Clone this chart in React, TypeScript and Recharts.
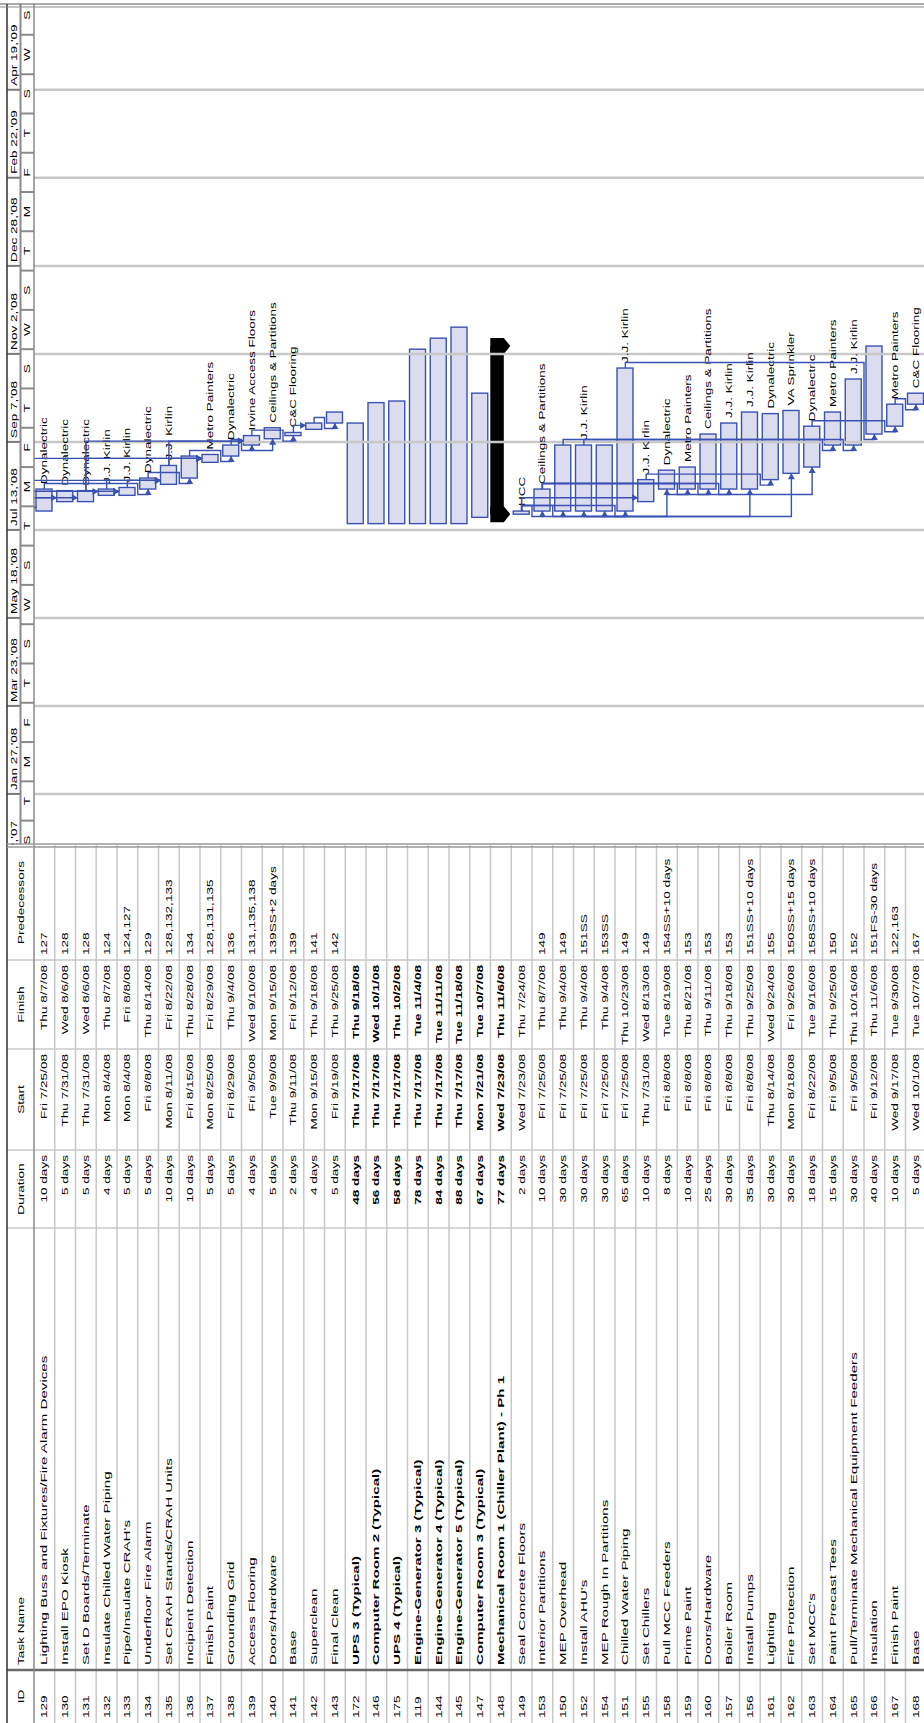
import React from 'react';
import { BarChart, Bar, XAxis, YAxis, ReferenceLine, LabelList, ScatterChart, Scatter } from 'recharts';

// ---------- data (read from the schedule) ----------
const ids = [129, 130, 131, 132, 133, 134, 135, 136, 137, 138, 139, 140, 141, 142, 143, 172, 146, 175, 119, 144, 145, 147, 148, 149, 153, 150, 152, 154, 151, 155, 158, 159, 160, 157, 156, 161, 162, 163, 164, 165, 166, 167, 168];

const taskNames = [
  'Lighting Buss and Fixtures/Fire Alarm Devices', 'Install EPO Kiosk', 'Set D Boards/Terminate', 'Insulate Chilled Water Piping',
  "Pipe/Insulate CRAH's", 'Underfloor Fire Alarm', 'Set CRAH Stands/CRAH Units', 'Incipient Detection', 'Finish Paint',
  'Grounding Grid', 'Access Flooring', 'Doors/Hardware', 'Base', 'Superclean', 'Final Clean', 'UPS 3 (Typical)',
  'Computer Room 2 (Typical)', 'UPS 4 (Typical)', 'Engine-Generator 3 (Typical)', 'Engine-Generator 4 (Typical)',
  'Engine-Generator 5 (Typical)', 'Computer Room 3 (Typical)', 'Mechanical Room 1 (Chiller Plant) - Ph 1',
  'Seal Concrete Floors', 'Interior Partitions', 'MEP Overhead', "Install AHU's", 'MEP Rough In Partitions',
  'Chilled Water Piping', 'Set Chillers', 'Pull MCC Feeders', 'Prime Paint', 'Doors/Hardware', 'Boiler Room',
  'Install Pumps', 'Lighting', 'Fire Protection', "Set MCC's", 'Paint Precast Tees',
  'Pull/Terminate Mechanical Equipment Feeders', 'Insulation', 'Finish Paint', 'Base',
];

const durations = ['10 days', '5 days', '5 days', '4 days', '5 days', '5 days', '10 days', '10 days', '5 days', '5 days', '4 days', '5 days', '2 days', '4 days', '5 days', '48 days', '56 days', '58 days', '78 days', '84 days', '88 days', '67 days', '77 days', '2 days', '10 days', '30 days', '30 days', '30 days', '65 days', '10 days', '8 days', '10 days', '25 days', '30 days', '35 days', '30 days', '30 days', '18 days', '15 days', '30 days', '40 days', '10 days', '5 days'];

const starts = ['Fri 7/25/08', 'Thu 7/31/08', 'Thu 7/31/08', 'Mon 8/4/08', 'Mon 8/4/08', 'Fri 8/8/08', 'Mon 8/11/08', 'Fri 8/15/08', 'Mon 8/25/08', 'Fri 8/29/08', 'Fri 9/5/08', 'Tue 9/9/08', 'Thu 9/11/08', 'Mon 9/15/08', 'Fri 9/19/08', 'Thu 7/17/08', 'Thu 7/17/08', 'Thu 7/17/08', 'Thu 7/17/08', 'Thu 7/17/08', 'Thu 7/17/08', 'Mon 7/21/08', 'Wed 7/23/08', 'Wed 7/23/08', 'Fri 7/25/08', 'Fri 7/25/08', 'Fri 7/25/08', 'Fri 7/25/08', 'Fri 7/25/08', 'Thu 7/31/08', 'Fri 8/8/08', 'Fri 8/8/08', 'Fri 8/8/08', 'Fri 8/8/08', 'Fri 8/8/08', 'Thu 8/14/08', 'Mon 8/18/08', 'Fri 8/22/08', 'Fri 9/5/08', 'Fri 9/5/08', 'Fri 9/12/08', 'Wed 9/17/08', 'Wed 10/1/08'];

const finishes = ['Thu 8/7/08', 'Wed 8/6/08', 'Wed 8/6/08', 'Thu 8/7/08', 'Fri 8/8/08', 'Thu 8/14/08', 'Fri 8/22/08', 'Thu 8/28/08', 'Fri 8/29/08', 'Thu 9/4/08', 'Wed 9/10/08', 'Mon 9/15/08', 'Fri 9/12/08', 'Thu 9/18/08', 'Thu 9/25/08', 'Thu 9/18/08', 'Wed 10/1/08', 'Thu 10/2/08', 'Tue 11/4/08', 'Tue 11/11/08', 'Tue 11/18/08', 'Tue 10/7/08', 'Thu 11/6/08', 'Thu 7/24/08', 'Thu 8/7/08', 'Thu 9/4/08', 'Thu 9/4/08', 'Thu 9/4/08', 'Thu 10/23/08', 'Wed 8/13/08', 'Tue 8/19/08', 'Thu 8/21/08', 'Thu 9/11/08', 'Thu 9/18/08', 'Thu 9/25/08', 'Wed 9/24/08', 'Fri 9/26/08', 'Tue 9/16/08', 'Thu 9/25/08', 'Thu 10/16/08', 'Thu 11/6/08', 'Tue 9/30/08', 'Tue 10/7/08'];

const predecessors = ['127', '128', '128', '124', '124,127', '129', '128,132,133', '134', '128,131,135', '136', '131,135,138', '139SS+2 days', '139', '141', '142', '', '', '', '', '', '', '', '', '', '149', '149', '151SS', '153SS', '149', '149', '154SS+10 days', '153', '153', '153', '151SS+10 days', '155', '150SS+15 days', '158SS+10 days', '150', '152', '151FS-30 days', '122,163', '167'];

const resources = ['Dynalectric', 'Dynalectric', 'Dynalectric', 'J.J. Kirlin', 'J.J. Kirlin', 'Dynalectric', 'J.J. Kirlin', '', 'Metro Painters', 'Dynalectric', 'Irvine Access Floors', 'Ceilings & Partitions', 'C&C Flooring', '', '', '', '', '', '', '', '', '', '', 'HCC', 'Ceilings & Partitions', '', 'J.J. Kirlin', '', 'J.J. Kirlin', 'J.J. Kirlin', 'Dynalectric', 'Metro Painters', 'Ceilings & Partitions', 'J.J. Kirlin', 'J.J. Kirlin', 'Dynalectric', 'VA Sprinkler', 'Dynalectric', 'Metro Painters', 'J.J. Kirlin', '', 'Metro Painters', 'C&C Flooring'];

const boldIds = [172, 146, 175, 119, 144, 145, 147, 148];
const summaryIds = [148];

// timescale
const majorDates = ['12/2/07', '1/27/08', '3/23/08', '5/18/08', '7/13/08', '9/7/08', '11/2/08', '12/28/08', '2/22/09', '4/19/09'];
const majorLabels = ["Dec 2,'07", "Jan 27,'08", "Mar 23,'08", "May 18,'08", "Jul 13,'08", "Sep 7,'08", "Nov 2,'08", "Dec 28,'08", "Feb 22,'09", "Apr 19,'09"];
const minorDates = ['12/16/07', '1/10/08', '2/4/08', '2/29/08', '3/25/08', '4/19/08', '5/14/08', '6/8/08', '7/3/08', '7/28/08', '8/22/08', '9/16/08', '10/11/08', '11/5/08', '11/30/08', '12/25/08', '1/19/09', '2/13/09', '3/10/09', '4/4/09', '4/29/09', '5/24/09'];
const minorLabels = ['S', 'T', 'M', 'F', 'T', 'S', 'W', 'S', 'T', 'M', 'F', 'T', 'S', 'W', 'S', 'T', 'M', 'F', 'T', 'S', 'W', 'S'];

// ---------- helpers ----------
const BASE = Date.UTC(2007, 11, 2);
const dayOf = (s: string) => {
  const [m, d, y] = s.split(' ').pop()!.split('/').map(Number);
  return (Date.UTC(2000 + y, m - 1, d) - BASE) / 86400000;
};

const FONT = "'Liberation Sans', Arial, Helvetica, sans-serif";
const BAR_FILL = '#dcdcef';
const BLUE = '#3a52b2';
const GRID = '#c8c8c8';

const STAGE_W = 1723;
const STAGE_H = 924;
const TABLE_W = 878;
const CHART_W = 840;
const TOP = 7;
const HEAD = 27;
const ROW_H = 20.75;
const CHART_H = HEAD + ROW_H * ids.length;
const DOMAIN: [number, number] = [23.5, 558];
const STRETCH = 1.6;
const NAME_STRETCH = 1.78;
const LABEL_STRETCH = 1.42;

const startDay = starts.map(dayOf);
const endDay = finishes.map((f) => dayOf(f) + 1);
const majorTicks = majorDates.map(dayOf);
const minorTicks = minorDates.map(dayOf);
const minorCenters = minorTicks.map((t, i) => (i < minorTicks.length - 1 ? (t + minorTicks[i + 1]) / 2 : t + 12.5));
const scaleTicks = [...majorTicks, ...minorTicks, ...minorCenters];

const rows = ids.map((id, i) => ({
  key: String(id),
  range: [startDay[i], endDay[i]],
  resource: resources[i],
  summary: summaryIds.includes(id),
}));

// dependency links, routed the way Project draws them (x in days, y in rows)
const HALF = 8 / ROW_H;
const GAP = 3.5;
const DROP = 2.5;
const rowOf = new Map(ids.map((id, i) => [id, i] as [number, number]));
type Pt = { x: number; y: number; dir?: string };
const links: Pt[][] = [];
ids.forEach((_, i) => {
  if (!predecessors[i]) return;
  predecessors[i].split(',').forEach((raw) => {
    const m = raw.trim().match(/^(\d+)(FS|SS)?/);
    if (!m) return;
    const rp = rowOf.get(Number(m[1]));
    const type = m[2] || 'FS';
    const sS = startDay[i];
    const cy = i + 0.5;
    if (rp === undefined) {
      // predecessor scrolled off above: only the first block shows these drops
      if (i > 14) return;
      links.push([{ x: sS + DROP, y: 0 }, { x: sS + DROP, y: cy - HALF, dir: 'down' }]);
      return;
    }
    const py = rp + 0.5;
    if (type === 'SS') {
      const xl = Math.min(startDay[rp], sS) - GAP;
      links.push([{ x: startDay[rp], y: py }, { x: xl, y: py }, { x: xl, y: cy }, { x: sS, y: cy, dir: 'right' }]);
      return;
    }
    const eP = endDay[rp];
    if (sS - eP >= 1) {
      const down = i > rp;
      links.push([{ x: eP, y: py }, { x: sS + DROP, y: py }, { x: sS + DROP, y: down ? cy - HALF : cy + HALF, dir: down ? 'down' : 'up' }]);
    } else {
      const mid = i > rp ? i : i + 1;
      links.push([
        { x: eP, y: py }, { x: eP + GAP, y: py }, { x: eP + GAP, y: mid },
        { x: sS - GAP, y: mid }, { x: sS - GAP, y: cy }, { x: sS, y: cy, dir: 'right' },
      ]);
    }
  });
});

// ---------- drawing pieces ----------
const SText = ({ x, y, size = 8.5, anchor = 'start', weight = 'normal', stretch = STRETCH, children }: any) => (
  <text
    transform={`translate(${x},${y}) scale(${stretch},1)`}
    fontSize={size}
    fontFamily={FONT}
    fontWeight={weight}
    textAnchor={anchor}
    fill="#000"
  >
    {children}
  </text>
);

const ScaleTick = (p: any) => {
  const v = p.payload.value;
  const x = p.x;
  const y = p.y;
  const mi = majorTicks.indexOf(v);
  if (mi >= 0) {
    return (
      <g>
        <line x1={x} x2={x} y1={y - HEAD} y2={y - HEAD / 2} stroke="#7a7a7a" strokeWidth={2} />
        <SText x={x + 4} y={y - HEAD / 2 - 3.8} size={8.5}>{majorLabels[mi]}</SText>
      </g>
    );
  }
  const si = minorTicks.indexOf(v);
  if (si >= 0) return <line x1={x} x2={x} y1={y - HEAD / 2} y2={y} stroke="#8a8a8a" strokeWidth={2} />;
  const ci = minorCenters.indexOf(v);
  if (ci >= 0) return <SText x={x} y={y - 3.8} size={8.5} anchor="middle">{minorLabels[ci]}</SText>;
  return <g />;
};

const TaskBar = (p: any) => {
  const { x, y, width, height, payload } = p;
  if (payload.summary) {
    const top = y - 2.2;
    const h = 13.5;
    const cap = (cx: number) =>
      `${cx - 8},${top} ${cx + 8},${top} ${cx + 8},${top + h} ${cx},${top + h + 6.5} ${cx - 8},${top + h}`;
    return (
      <g fill="#000">
        <rect x={x} y={top} width={width} height={h} />
        <polygon points={cap(x)} />
        <polygon points={cap(x + width)} />
      </g>
    );
  }
  return <rect x={x} y={y} width={Math.max(width, 1)} height={height} fill={BAR_FILL} stroke={BLUE} strokeWidth={1.4} />;
};

const ResourceLabel = (p: any) => {
  const { x, y, width, height, value } = p;
  if (!value) return null;
  return (
    <SText x={x + width + 5} y={y + height / 2 + 3.4} size={9.5} stretch={LABEL_STRETCH}>
      {value}
    </SText>
  );
};

const LinkPoint = (p: any) => {
  const d = p.payload && p.payload.dir;
  if (!d) return <g />;
  const { cx, cy } = p;
  let pts = `${cx - 6},${cy - 3.5} ${cx - 6},${cy + 3.5} ${cx},${cy}`;
  if (d === 'down') pts = `${cx - 3.5},${cy - 6} ${cx + 3.5},${cy - 6} ${cx},${cy}`;
  if (d === 'up') pts = `${cx - 3.5},${cy + 6} ${cx + 3.5},${cy + 6} ${cx},${cy}`;
  return <polygon points={pts} fill={BLUE} />;
};

const COLS = [
  { title: 'ID', x0: 0, x1: 53, align: 'start', hAlign: 'middle' },
  { title: 'Task Name', x0: 53, x1: 495, align: 'start', hAlign: 'start' },
  { title: 'Duration', x0: 495, x1: 573, align: 'end', hAlign: 'middle' },
  { title: 'Start', x0: 573, x1: 674, align: 'end', hAlign: 'middle' },
  { title: 'Finish', x0: 674, x1: 763, align: 'end', hAlign: 'middle' },
  { title: 'Predecessors', x0: 763, x1: 878, align: 'start', hAlign: 'middle' },
];

const cellText = (c: number, i: number) =>
  [String(ids[i]), taskNames[i], durations[i], starts[i], finishes[i], predecessors[i]][c];

const posX = (col: any, align: string) =>
  align === 'start' ? col.x0 + 5 : align === 'end' ? col.x1 - 5 : (col.x0 + col.x1) / 2;

const Table = () => {
  const rowTop = TOP + HEAD;
  return (
    <svg width={TABLE_W} height={STAGE_H} style={{ position: 'absolute', left: 0, top: 0 }}>
      {ids.map((_, i) => (
        <line key={'r' + i} x1={0} x2={TABLE_W} y1={rowTop + (i + 1) * ROW_H} y2={rowTop + (i + 1) * ROW_H} stroke={GRID} strokeWidth={1.5} />
      ))}
      {COLS.slice(1).map((c) => (
        <line key={'c' + c.x0} x1={c.x0} x2={c.x0} y1={TOP} y2={STAGE_H} stroke={c.x0 === 53 ? '#6a6a6a' : GRID} strokeWidth={c.x0 === 53 ? 2.5 : 1.5} />
      ))}
      {COLS.map((c) => (
        <SText key={'h' + c.title} x={posX(c, c.hAlign)} y={TOP + HEAD / 2 + 3} anchor={c.hAlign}>
          {c.title}
        </SText>
      ))}
      {ids.map((id, i) =>
        COLS.map((c, k) => (
          <SText
            key={id + '-' + k + '-' + i}
            x={posX(c, c.align)}
            y={rowTop + i * ROW_H + ROW_H / 2 + 3}
            anchor={c.align}
            stretch={k === 1 ? NAME_STRETCH : STRETCH}
            weight={boldIds.includes(id) && k > 0 && k < 5 ? 'bold' : 'normal'}
          >
            {cellText(k, i)}
          </SText>
        ))
      )}
    </svg>
  );
};

const Frame = () => (
  <svg width={STAGE_W} height={STAGE_H} style={{ position: 'absolute', left: 0, top: 0, pointerEvents: 'none' }}>
    <line x1={0} x2={1719} y1={TOP} y2={TOP} stroke="#3a3a3a" strokeWidth={1.6} />
    <line x1={0} x2={1719} y1={TOP + HEAD} y2={TOP + HEAD} stroke="#8a8a8a" strokeWidth={1.5} />
    <line x1={TABLE_W} x2={1719} y1={TOP + HEAD / 2} y2={TOP + HEAD / 2} stroke="#8a8a8a" strokeWidth={2} />
    <line x1={TABLE_W - 2} x2={TABLE_W - 2} y1={TOP} y2={STAGE_H} stroke="#9a9a9a" strokeWidth={1.5} />
    <line x1={TABLE_W + 1} x2={TABLE_W + 1} y1={TOP} y2={STAGE_H} stroke="#9a9a9a" strokeWidth={1.5} />
    <line x1={1716} x2={1716} y1={0} y2={STAGE_H} stroke="#8a8a8a" strokeWidth={1.2} />
    <line x1={1719} x2={1719} y1={0} y2={STAGE_H} stroke="#5a5a5a" strokeWidth={1.2} />
  </svg>
);

const Gantt = () => (
  <div style={{ position: 'absolute', left: TABLE_W, top: TOP, width: CHART_W, height: STAGE_H - TOP, overflow: 'hidden' }}>
    <div style={{ position: 'absolute', left: 0, top: 0 }}>
      <BarChart layout="vertical" width={CHART_W} height={CHART_H} data={rows} margin={{ top: 0, right: 0, bottom: 0, left: 0 }} barCategoryGap={0}>
        <XAxis
          xAxisId="t"
          type="number"
          orientation="top"
          domain={DOMAIN}
          allowDataOverflow
          ticks={scaleTicks}
          interval={0}
          height={HEAD}
          tick={ScaleTick}
          tickLine={false}
          axisLine={false}
          tickSize={0}
          tickMargin={0}
        />
        <YAxis type="category" dataKey="key" hide />
        {majorTicks.filter((t) => t > DOMAIN[0]).map((t) => (
          <ReferenceLine key={t} xAxisId="t" x={t} stroke={GRID} strokeWidth={2.5} />
        ))}
        <Bar xAxisId="t" dataKey="range" barSize={16} shape={TaskBar} isAnimationActive={false}>
          <LabelList dataKey="resource" content={ResourceLabel} />
        </Bar>
      </BarChart>
    </div>
    <div style={{ position: 'absolute', left: 0, top: 0 }}>
      <ScatterChart width={CHART_W} height={CHART_H} margin={{ top: HEAD, right: 0, bottom: 0, left: 0 }}>
        <XAxis type="number" dataKey="x" domain={DOMAIN} allowDataOverflow hide />
        <YAxis type="number" dataKey="y" domain={[0, ids.length]} allowDataOverflow reversed hide />
        {links.map((l, k) => (
          <Scatter
            key={k}
            data={l}
            line={{ stroke: BLUE, strokeWidth: 1.4 }}
            lineType="joint"
            shape={LinkPoint}
            isAnimationActive={false}
          />
        ))}
      </ScatterChart>
    </div>
  </div>
);

export default function App() {
  return (
    <div style={{ position: 'absolute', left: 0, top: 0, width: STAGE_H, height: STAGE_W, overflow: 'hidden', background: '#fff' }}>
      <div
        style={{
          position: 'absolute',
          left: 0,
          top: 0,
          width: STAGE_W,
          height: STAGE_H,
          transformOrigin: '0 0',
          transform: `translate(0px, ${STAGE_W}px) rotate(-90deg)`,
        }}
      >
        <Table />
        <Gantt />
        <Frame />
      </div>
    </div>
  );
}
